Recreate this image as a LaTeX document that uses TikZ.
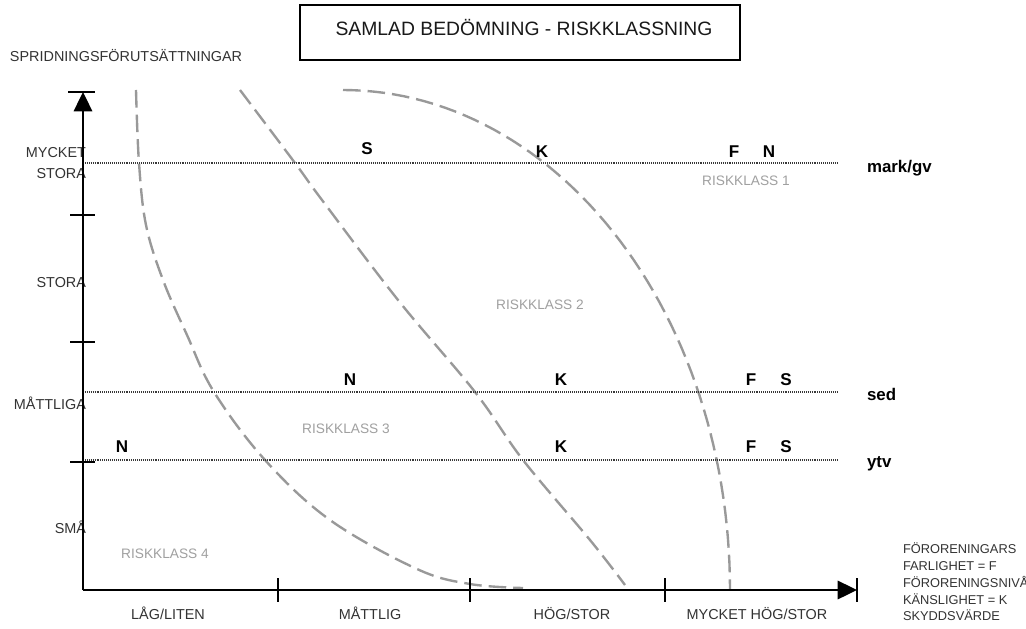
\documentclass[tikz,border=0pt]{standalone}
\usepackage{fontspec}
\setmainfont{Liberation Sans}
\usetikzlibrary{arrows.meta}
\definecolor{lbl}{HTML}{333333}
\definecolor{curvegray}{HTML}{999999}
\definecolor{rk}{HTML}{A0A0A0}
\begin{document}
\begin{tikzpicture}[x=0.02cm,y=-0.02cm,
  txt/.style={inner sep=0pt, outer sep=0pt},
  axlbl/.style={txt, font=\fontsize{8.2}{10}\selectfont, text=lbl},
  letter/.style={txt, anchor=base, font=\fontsize{9.7}{11}\selectfont\bfseries},
  rklbl/.style={txt, anchor=base, font=\fontsize{7.8}{9}\selectfont, text=rk},
  medlbl/.style={txt, anchor=base west, font=\fontsize{9.6}{11}\selectfont\bfseries},
  legendtxt/.style={txt, anchor=base west, font=\fontsize{7.3}{8.5}\selectfont, text=lbl},
  axisline/.style={line width=1.1pt, black},
  tickline/.style={line width=1.1pt, black},
  levelline/.style={line width=0.95pt, black!78, dash pattern=on 0.55pt off 0.55pt},
  riskcurve/.style={line width=1.35pt, curvegray, dash pattern=on 10pt off 4pt},
]
\fill[white] (0,0) rectangle (1026,628);
\useasboundingbox (0,0) rectangle (1026,628);

% title
\node[draw, line width=1.1pt, minimum width=8.8cm, minimum height=1.1cm, inner sep=0pt] (titlebox) at (520,32.5) {};
\node[txt, anchor=base, font=\fontsize{11}{13}\selectfont, text=black!90] (title) at (524,36) {SAMLAD BEDÖMNING - RISKKLASSNING};

\node[axlbl, anchor=base west] (ytitle) at (10,61.5) {SPRIDNINGSFÖRUTSÄTTNINGAR};

% coordinates
\coordinate (O) at (83,590);
\coordinate (ytop) at (83,92);
\coordinate (xend) at (857,590);

% risk class boundaries
\draw[riskcurve] plot[smooth, tension=0.6] coordinates {(136,90) (139,163) (146,225) (163,280) (187,335) (214,392) (265,460) (330,520) (417,569) (470,584) (523,588)};
\draw[riskcurve] plot[smooth, tension=0.6] coordinates {(240,90) (295,163) (322,200) (398,300) (475,392) (523,460) (590,540) (625,585)};
\draw[riskcurve] plot[domain=90:0, samples=60] ({343+387*cos(\x)},{590-500*sin(\x)});

% level lines
\coordinate (l1a) at (83,163); \coordinate (l1b) at (838,163);
\coordinate (l2a) at (83,392); \coordinate (l2b) at (838,392);
\coordinate (l3a) at (83,460); \coordinate (l3b) at (838,460);
\draw[levelline] (l1a) -- (l1b);
\draw[levelline] (l2a) -- (l2b);
\draw[levelline] (l3a) -- (l3b);

\node[medlbl] (markgv) at (867,173) {mark/gv};
\node[medlbl] (sed) at (867,400) {sed};
\node[medlbl] (ytv) at (867,467) {ytv};

% letters
\node[letter] (r1s) at (367,154) {S};
\node[letter] (r1k) at (542,157) {K};
\node[letter] (r1f) at (734,157) {F};
\node[letter] (r1n) at (769,157) {N};
\node[letter] (r2n) at (350,385) {N};
\node[letter] (r2k) at (561,385) {K};
\node[letter] (r2f) at (751,385) {F};
\node[letter] (r2s) at (786,385) {S};
\node[letter] (r3n) at (122,452) {N};
\node[letter] (r3k) at (561,452) {K};
\node[letter] (r3f) at (751,452) {F};
\node[letter] (r3s) at (786,452) {S};

% risk class labels
\node[rklbl] (rk1) at (746,185) {RISKKLASS 1};
\node[rklbl] (rk2) at (540,309) {RISKKLASS 2};
\node[rklbl] (rk3) at (346,433) {RISKKLASS 3};
\node[rklbl] (rk4) at (165,558) {RISKKLASS 4};

% y labels
\node[axlbl, anchor=base east] (ymycket) at (86,157) {MYCKET};
\node[axlbl, anchor=base east] (ystora1) at (86,178) {STORA};
\node[axlbl, anchor=base east] (ystora2) at (86,287) {STORA};
\node[axlbl, anchor=base east] (ymatt) at (86,409) {MÅTTLIGA};
\node[axlbl, anchor=base east] (ysma) at (86,533) {SMÅ};

% x labels
\node[axlbl, anchor=base] (xlag) at (168,619) {LÅG/LITEN};
\node[axlbl, anchor=base] (xmatt) at (370,619) {MÅTTLIG};
\node[axlbl, anchor=base] (xhog) at (572,619) {HÖG/STOR};
\node[axlbl, anchor=base] (xmyc) at (757,619) {MYCKET HÖG/STOR};

% axes
\draw[axisline, -{Triangle[length=11pt,width=10.5pt]}] (O) -- (ytop);
\draw[axisline, -{Triangle[length=11pt,width=10.5pt]}] (O) -- (xend);
\draw[tickline] (68,92) -- (95,92);
\draw[tickline] (857,578) -- (857,602);
\foreach \yy in {215,342,462} \draw[tickline] (70,\yy) -- (95,\yy);
\foreach \xx in {278,470,665} \draw[tickline] (\xx,578) -- (\xx,602);

% legend (cut at the picture edge, as in the reference)
\begin{scope}
\clip (880,530) rectangle (1026,628);
\node[legendtxt] (lg1) at (903,553) {FÖRORENINGARS};
\node[legendtxt] (lg2) at (903,570) {FARLIGHET = F};
\node[legendtxt] (lg3) at (903,587) {FÖRORENINGSNIVÅ = N};
\node[legendtxt] (lg4) at (903,604) {KÄNSLIGHET = K};
\node[legendtxt] (lg5) at (903,620) {SKYDDSVÄRDE};
\end{scope}
\end{tikzpicture}
\end{document}
